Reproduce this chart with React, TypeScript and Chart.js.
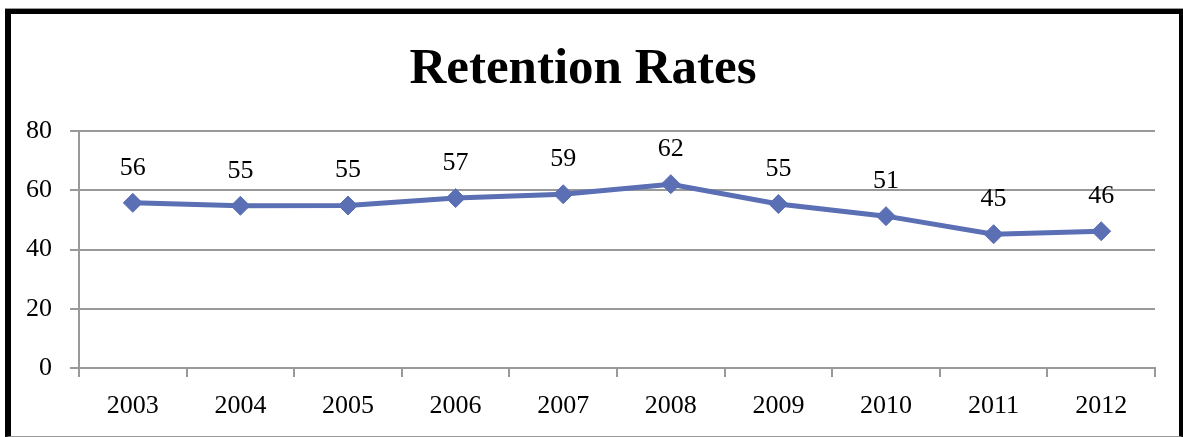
import React, { useEffect, useRef } from "react";
import { Chart, registerables } from "chart.js";

Chart.register(...registerables);

const years = ["2003", "2004", "2005", "2006", "2007", "2008", "2009", "2010", "2011", "2012"];
const retention = [55.8, 54.8, 54.9, 57.4, 58.7, 62.1, 55.4, 51.3, 45.2, 46.2];
const yTicks = [0, 20, 40, 60, 80];
const titleText = "Retention Rates";

const FONT = "'Liberation Serif', 'Times New Roman', serif";
const LINE_COLOR = "#5a6fb4";
const GRID_COLOR = "#999999";

const dataLabelPlugin = {
  id: "dataLabels",
  afterDatasetsDraw(chart: any) {
    const ctx = chart.ctx;
    const meta = chart.getDatasetMeta(0);
    ctx.save();
    ctx.font = `26px ${FONT}`;
    ctx.fillStyle = "#000";
    ctx.textAlign = "center";
    ctx.textBaseline = "alphabetic";
    meta.data.forEach((pt: any, i: number) => {
      const v = chart.data.datasets[0].data[i] as number;
      ctx.fillText(String(Math.round(v)), pt.x, pt.y - 28);
    });
    ctx.restore();
  },
};

export default function App() {
  const ref = useRef<HTMLCanvasElement | null>(null);

  useEffect(() => {
    if (!ref.current) return;
    const chart = new Chart(ref.current, {
      type: "line",
      data: {
        labels: years,
        datasets: [
          {
            data: retention,
            borderColor: LINE_COLOR,
            backgroundColor: LINE_COLOR,
            borderWidth: 5,
            pointStyle: "rectRot",
            pointRadius: 9.5,
            pointBorderWidth: 1,
            pointBackgroundColor: LINE_COLOR,
            pointBorderColor: LINE_COLOR,
            tension: 0,
            fill: false,
          },
        ],
      },
      options: {
        responsive: false,
        animation: false,
        devicePixelRatio: 1,
        layout: { padding: { left: 0, right: 24, top: 0, bottom: 0 } },
        plugins: {
          legend: { display: false },
          tooltip: { enabled: false },
          title: {
            display: true,
            text: titleText,
            color: "#000",
            font: { family: FONT, size: 51, weight: "bold" },
            padding: { top: 25, bottom: 31 },
          },
        },
        scales: {
          x: {
            type: "category",
            offset: true,
            afterFit(scale: any) {
              scale.height = 68;
            },
            grid: {
              display: true,
              offset: true,
              drawOnChartArea: false,
              drawTicks: true,
              tickLength: 9,
              color: GRID_COLOR,
              lineWidth: 2,
            },
            border: { display: true, color: GRID_COLOR, width: 2 },
            ticks: {
              color: "#000",
              font: { family: FONT, size: 26 },
              padding: 14,
              maxRotation: 0,
              autoSkip: false,
            },
          },
          y: {
            min: 0,
            max: 80,
            afterFit(scale: any) {
              scale.width = 68;
            },
            afterBuildTicks(scale: any) {
              scale.ticks = yTicks.map((v) => ({ value: v }));
            },
            grid: {
              color: GRID_COLOR,
              lineWidth: 2,
              drawTicks: true,
              tickLength: 9,
            },
            border: { display: true, color: GRID_COLOR, width: 2 },
            ticks: {
              color: "#000",
              font: { family: FONT, size: 26 },
              padding: 18,
            },
          },
        },
      },
      plugins: [dataLabelPlugin],
    });
    return () => chart.destroy();
  }, []);

  return (
    <div style={{ position: "fixed", left: 0, top: 0, width: 1183, height: 437, background: "#fff", overflow: "hidden" }}>
      <div
        style={{
          position: "absolute",
          left: 5,
          top: 9,
          width: 1178,
          height: 428,
          boxSizing: "border-box",
          borderLeft: "6px solid #000",
          borderTop: "5px solid #000",
          borderRight: "4px solid #000",
          borderBottom: "1px solid #999",
          boxShadow: "0 -1px 0 #999",
        }}
      >
        <canvas ref={ref} width={1168} height={422} style={{ display: "block", width: 1168, height: 422 }} />
      </div>
    </div>
  );
}
